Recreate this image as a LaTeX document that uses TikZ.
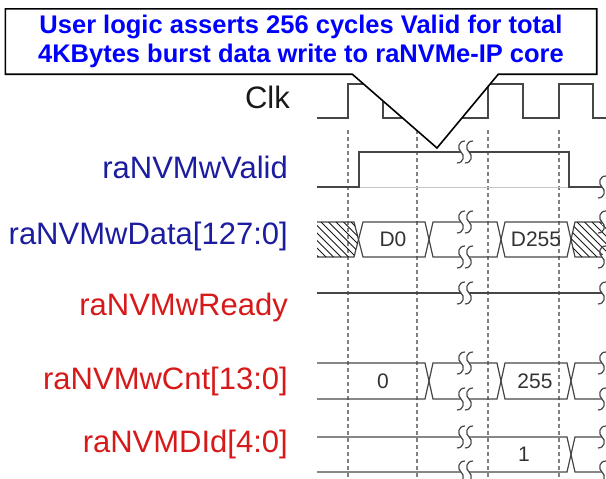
\documentclass[tikz,border=0pt]{standalone}
\usepackage{fontspec}
\setmainfont{Liberation Sans}
\usetikzlibrary{calc}

\definecolor{sigblue}{RGB}{28,28,160}
\definecolor{sigred}{RGB}{215,25,25}
\definecolor{wavegray}{RGB}{70,70,70}
\definecolor{noteblue}{RGB}{0,0,255}

\tikzset{
  signame/.style={anchor=base east, inner sep=0pt, font=\fontsize{31}{36}\selectfont},
  wave/.style={draw=wavegray, line width=1.2pt},
  tick/.style={draw=gray, line width=1.1pt, dash pattern=on 4pt off 3pt},
  cellval/.style={inner sep=0pt, text=black!80, font=\fontsize{21}{25}\selectfont},
  notetext/.style={minimum width=591pt, minimum height=65pt, inner sep=0pt, align=center,
    fill=white, text=noteblue, font=\bfseries\fontsize{25.5}{29}\selectfont},
  noteline/.style={draw=black, line width=1.6pt, line join=miter},
  wavebreak/.pic={
    \fill[white] (-4,-2.5) rectangle (4,2.5);
    \foreach \dx in {-4,4}
      \draw[wave] (\dx+4,-11) .. controls (\dx-3,-11) and (\dx-4,-3) .. (\dx,0)
        .. controls (\dx+4,3) and (\dx+3,11) .. (\dx-4,11);
  }
}

\begin{document}
\begin{tikzpicture}[x=1pt,y=-1pt]

\useasboundingbox (0,0) rectangle (606,479);
\clip (0,0) rectangle (606,479);

% signal names

\node[signame, text=black!90] (clk) at (290,108) {Clk};
\node[signame, text=sigblue] (valid) at (288,178) {raNVMwValid};
\node[signame, text=sigblue] (data) at (288,244) {raNVMwData[127:0]};
\node[signame, text=sigred] (ready) at (288,315) {raNVMwReady};
\node[signame, text=sigred] (cnt) at (288,389) {raNVMwCnt[13:0]};
\node[signame, text=sigred] (did) at (288,452) {raNVMDId[4:0]};

% clock edges

\foreach \t in {348,417,488,559}
  \draw[tick] (\t,130) -- (\t,479);

% waveforms

\draw[wave] (317,118) -- (348,118) -- (348,84) -- (383,84) -- (383,118) -- (488,118) -- (488,84)
  -- (523,84) -- (523,118) -- (559,118) -- (559,84) -- (593,84) -- (593,118) -- (606,118);

\draw[draw=gray!45, line width=1pt] (359,187) -- (569,187);
\draw[wave] (317,187) -- (359,187) -- (359,152) -- (569,152) -- (569,187) -- (606,187);

\draw[wave] (317,222) -- (354,222) -- (363,257) -- (425,257) -- (433,222) -- (497,222) -- (505,257)
  -- (567,257) -- (575,222) -- (606,222);
\draw[wave] (317,257) -- (354,257) -- (363,222) -- (425,222) -- (433,257) -- (497,257) -- (505,222)
  -- (567,222) -- (575,257) -- (606,257);
\begin{scope}
  \clip (317,222) -- (354,222) -- (358.5,239.5) -- (354,257) -- (317,257) -- cycle;
  \foreach \h in {276,283.5,...,360}
    \draw[black!90, line width=1pt] (\h,222) -- (\h+35,257);
\end{scope}
\begin{scope}
  \clip (575,222) -- (606,222) -- (606,257) -- (575,257) -- (571,239.5) -- cycle;
  \foreach \h in {532,539.5,...,610}
    \draw[black!90, line width=1pt] (\h,222) -- (\h+35,257);
\end{scope}

\draw[wave] (317,293) -- (606,293);

\draw[wave] (317,363) -- (425,363) -- (433,399) -- (497,399) -- (505,363) -- (567,363) -- (575,399) -- (606,399);
\draw[wave] (317,399) -- (425,399) -- (433,363) -- (497,363) -- (505,399) -- (567,399) -- (575,363) -- (606,363);

\draw[wave] (317,437) -- (567,437) -- (575,472) -- (606,472);
\draw[wave] (317,472) -- (567,472) -- (575,437) -- (606,437);

% values

\node[cellval] (d0) at (393,239.5) {D0};
\node[cellval] (d255) at (536,239.5) {D255};
\node[cellval] (c0) at (383,381) {0};
\node[cellval] (c255) at (535,381) {255};
\node[cellval] (id1) at (524,454.5) {1};

% breaks

\foreach \y in {152,222,257,293,363,399,437,472}
  \pic at (465,\y) {wavebreak};
\foreach \y in {187,222,257,293,363,399,437,472}
  \pic at (606,\y) {wavebreak};

% callout

\node[notetext] (note) at (301,41.5) {User logic asserts 256 cycles Valid for total\\4KBytes burst data write to raNVMe-IP core};
\coordinate (tip) at (437,148);
\coordinate (legA) at ($(note.south west)+(347,0)$);
\coordinate (legB) at ($(note.south west)+(493,0)$);
\fill[white] (legA) -- (tip) -- (legB) -- cycle;
\draw[noteline] (legA) -- (note.south west) -- (note.north west) -- (note.north east) -- (note.south east)
  -- (legB) -- (tip) -- cycle;

\end{tikzpicture}
\end{document}
